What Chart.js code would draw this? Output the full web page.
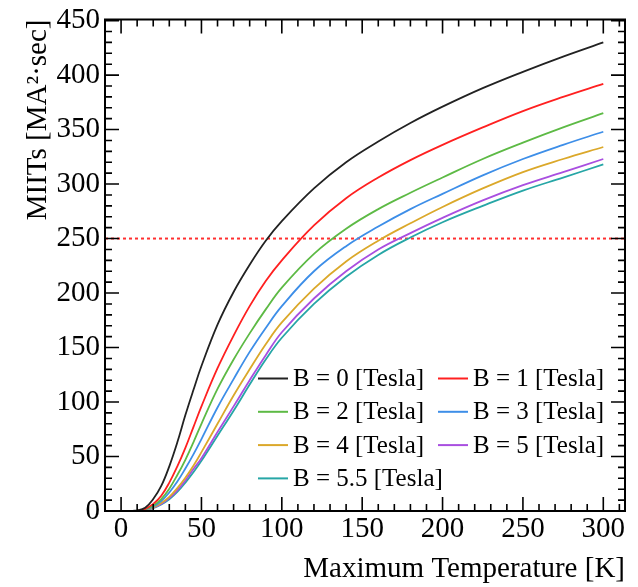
<!DOCTYPE html>
<html lang="en">
<head>
  <meta charset="UTF-8" />
  <title>MIITs vs Maximum Temperature</title>
  <script src="https://cdn.jsdelivr.net/npm/chart.js"></script>
  <style>
    html, body { margin: 0; padding: 0; background: #fff; }
    #wrap { width: 638px; height: 587px; }
  </style>
</head>
<body>
  <div id="wrap"><canvas id="grafico" width="638" height="587"></canvas></div>

  <script>
    // temperatures [K] where the curves were read
    const temps = [5, 10, 15, 20, 25, 30, 35, 40, 45, 50, 60, 70, 80, 90, 100, 120, 140, 160, 180, 200, 225, 250, 275, 300];

    // MIITs [MA^2 s] per field value
    const miitsB0   = [0, 0.5, 3, 11, 23, 41, 63, 88, 111, 133, 171, 201, 226, 248, 266, 296, 320, 339, 356, 371, 388, 403, 417, 430];
    const miitsB1   = [0, 0.3, 2, 6.5, 14, 26, 41, 58, 77, 96, 131, 161, 188, 211, 230, 262, 287, 306, 322, 336, 352, 367, 380, 392];
    const miitsB2   = [0, 0.2, 1.5, 5, 11, 20.5, 33, 47, 63, 80, 112, 139, 163, 185, 205, 236, 259, 277, 292, 306, 323, 338, 352, 365];
    const miitsB3   = [0, 0.2, 1.2, 4.2, 9.2, 17, 27, 39, 52, 66, 95, 121, 146, 168, 188, 220, 243, 261, 277, 291, 308, 323, 336, 348];
    const miitsB4   = [0, 0.2, 1, 3.3, 7.3, 13, 21, 30.5, 41.5, 54, 80, 106, 130, 153, 173, 204, 229, 248, 264, 279, 296, 311, 323, 334];
    const miitsB5   = [0, 0.1, 0.8, 3, 6.5, 11.8, 19, 28, 38.5, 48.5, 72.5, 96, 120, 143, 164, 195, 220, 240, 255, 269, 285, 299, 311, 323];
    const miitsB5p5 = [0, 0.1, 0.7, 2.7, 6, 10.8, 17.5, 26, 35.5, 46, 69, 92, 116, 139, 159, 190, 215, 235, 251, 265, 280, 294, 306, 318];

    const labels = ['B = 0 [Tesla]', 'B = 1 [Tesla]', 'B = 2 [Tesla]', 'B = 3 [Tesla]', 'B = 4 [Tesla]', 'B = 5 [Tesla]', 'B = 5.5 [Tesla]'];
    const cores = ['#222222', '#ff2020', '#5dba45', '#3d8ee8', '#dba82a', '#a94fe0', '#26a6a6'];
    const series = [miitsB0, miitsB1, miitsB2, miitsB3, miitsB4, miitsB5, miitsB5p5];

    const limite = 250;
    const xMin = -10, xMax = 313.5;
    const yMin = 0, yMax = 451;
    const xLabels = [0, 50, 100, 150, 200, 250, 300];
    const yLabels = [0, 50, 100, 150, 200, 250, 300, 350, 400, 450];
    const xTicks = Array.from({ length: 33 }, (_, i) => -10 + i * 10);
    const yTicks = Array.from({ length: 46 }, (_, i) => i * 10);

    const serif = "'Liberation Serif', 'Times New Roman', serif";

    const datasets = series.map((s, i) => ({
      label: labels[i],
      data: temps.map((t, k) => ({ x: t, y: s[k] })),
      borderColor: cores[i],
      borderWidth: 1.8,
      pointRadius: 0,
      tension: 0.4,
      fill: false
    }));
    datasets.push({
      label: 'limite',
      data: [{ x: xMin, y: limite }, { x: xMax, y: limite }],
      borderColor: '#ff3030',
      borderWidth: 2,
      borderDash: [3, 3],
      pointRadius: 0,
      fill: false
    });

    // ticks drawn inside the frame on all four sides, plus the frame
    const ticksDentro = {
      id: 'ticksDentro',
      afterDraw(chart) {
        const { ctx, chartArea: a, scales: { x, y } } = chart;
        ctx.save();
        ctx.strokeStyle = '#000';
        ctx.lineWidth = 1.6;
        ctx.beginPath();
        xTicks.forEach(v => {
          const px = x.getPixelForValue(v);
          const len = v % 50 === 0 ? 14 : 7;
          ctx.moveTo(px, a.bottom); ctx.lineTo(px, a.bottom - len);
          ctx.moveTo(px, a.top); ctx.lineTo(px, a.top + len);
        });
        yTicks.forEach(v => {
          const py = y.getPixelForValue(v);
          const len = v % 50 === 0 ? 14 : 7;
          ctx.moveTo(a.left, py); ctx.lineTo(a.left + len, py);
          ctx.moveTo(a.right, py); ctx.lineTo(a.right - len, py);
        });
        ctx.stroke();
        ctx.lineWidth = 2;
        ctx.strokeRect(a.left, a.top, a.right - a.left, a.bottom - a.top);
        ctx.restore();
      }
    };

    // two-column legend inside the plot
    const legenda = {
      id: 'legenda',
      afterDraw(chart) {
        const { ctx, chartArea: a } = chart;
        const x0 = a.left + 153, colW = 180, y0 = a.top + 359, rowH = 33.3;
        ctx.save();
        ctx.font = '25px ' + serif;
        ctx.textBaseline = 'middle';
        ctx.fillStyle = '#000';
        chart.data.datasets.slice(0, labels.length).forEach((d, i) => {
          const lx = x0 + (i % 2) * colW;
          const ly = y0 + Math.floor(i / 2) * rowH;
          ctx.strokeStyle = d.borderColor;
          ctx.lineWidth = 2;
          ctx.beginPath();
          ctx.moveTo(lx, ly); ctx.lineTo(lx + 30, ly);
          ctx.stroke();
          ctx.fillText(d.label, lx + 35, ly + 1);
        });
        ctx.restore();
      }
    };

    new Chart(document.getElementById('grafico'), {
      type: 'line',
      data: { datasets },
      plugins: [ticksDentro, legenda],
      options: {
        responsive: false,
        animation: false,
        devicePixelRatio: 1,
        layout: { padding: { top: 14, right: 13, left: 0, bottom: 0 } },
        plugins: { legend: { display: false }, tooltip: { enabled: false } },
        scales: {
          x: {
            type: 'linear',
            min: xMin,
            max: xMax,
            grid: { display: false, drawTicks: false },
            border: { display: false },
            afterBuildTicks: s => { s.ticks = xLabels.map(v => ({ value: v })); },
            afterFit: s => { s.height = 76; },
            ticks: { color: '#000', padding: 4, maxRotation: 0, font: { family: serif, size: 29, lineHeight: 1 } },
            title: {
              display: true,
              text: 'Maximum Temperature [K]',
              align: 'end',
              color: '#000',
              padding: { top: 0, bottom: 0 },
              font: { family: serif, size: 29 }
            }
          },
          y: {
            type: 'linear',
            min: yMin,
            max: yMax,
            grid: { display: false, drawTicks: false },
            border: { display: false },
            afterBuildTicks: s => { s.ticks = yLabels.map(v => ({ value: v })); },
            afterFit: s => { s.width = 105; },
            ticks: { color: '#000', padding: 5, font: { family: serif, size: 29, lineHeight: 1 } },
            title: {
              display: true,
              text: 'MIITs [MA\u00B2\u00B7sec]',
              align: 'end',
              color: '#000',
              padding: { top: 21, bottom: 0 },
              font: { family: serif, size: 29 }
            }
          }
        }
      }
    });
  </script>
</body>
</html>
